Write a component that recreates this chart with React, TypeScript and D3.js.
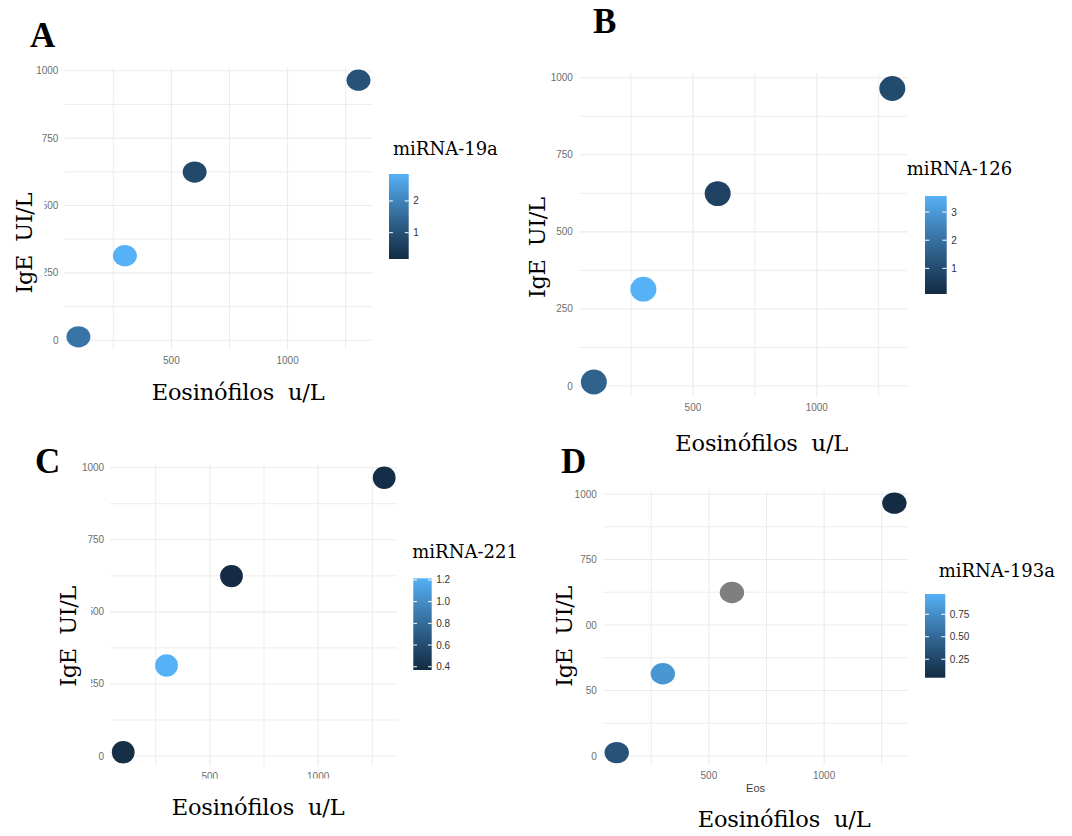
import React from "react";
import * as d3 from "d3";

// ---- data ----
const eosinophils = [100, 300, 600, 1305];
const ige = [13, 314, 624, 965];

const mir19a = [1.72, 2.85, 0.84, 1.03];
const mir19aLimits = [0.17, 2.85];
const mir19aTicks = [1, 2];

const mir126 = [1.62, 3.57, 0.75, 0.99];
const mir126Limits = [0.09, 3.57];
const mir126Ticks = [1, 2, 3];

const mir221 = [0.4, 1.215, 0.37, 0.39];
const mir221Limits = [0.37, 1.215];
const mir221Ticks = [0.4, 0.6, 0.8, 1.0, 1.2];

const mir193a: (number | null)[] = [0.35, 0.8, null, 0.045];
const mir193aLimits = [0.045, 0.975];
const mir193aTicks = [0.25, 0.5, 0.75];

const xTickValues = [500, 1000];
const yTickValues = [0, 250, 500, 750, 1000];
const xGridValues = [250, 500, 750, 1000, 1250];
const yGridValues = [0, 125, 250, 375, 500, 625, 750, 875, 1000];

const LOW = "#132B43";
const HIGH = "#56B1F7";
const NA_COL = "#7F7F7F";
const SERIF = "'DejaVu Serif', serif";
const SANS = "'Liberation Sans', Arial, sans-serif";

type Layout = {
  id: string;
  letter: [number, number];
  xTick: [number, number]; // pixel of 250 and 1250
  yTick: [number, number]; // pixel of 0 and 1000
  r: [number, number];
  xTitle: [number, number];
  yTitle: [number, number];
  mask: [number, number, number, number];
  legendTitle: [number, number];
  bar: [number, number, number, number];
  title: string;
  values: (number | null)[];
  limits: number[];
  ticks: number[];
  fmt: string;
  extraMask?: [number, number, number, number];
  eos?: boolean;
};

const layouts: Layout[] = [
  {
    id: "A", letter: [30, 47], xTick: [113.3, 345.7], yTick: [340.3, 70.7], r: [12, 10.6],
    xTitle: [151.7, 400], yTitle: [31.5, 293.5], mask: [0, 180, 44.5, 120],
    legendTitle: [393, 155], bar: [389, 174, 408.7, 259], title: "miRNA-19a",
    values: mir19a, limits: mir19aLimits, ticks: mir19aTicks, fmt: "d",
  },
  {
    id: "B", letter: [593, 33], xTick: [631, 878.7], yTick: [386, 77.7], r: [13, 12.4],
    xTitle: [675.3, 450.5], yTitle: [545, 298], mask: [500, 180, 55, 140],
    legendTitle: [906.7, 175], bar: [925, 196, 946.7, 294], title: "miRNA-126",
    values: mir126, limits: mir126Limits, ticks: mir126Ticks, fmt: "d",
  },
  {
    id: "C", letter: [35, 473], xTick: [155.7, 372.3], yTick: [756, 467.7], r: [11.4, 11.2],
    xTitle: [171.7, 815], yTitle: [76, 686.7], mask: [0, 580, 91, 120],
    legendTitle: [412.3, 558.3], bar: [413.3, 578.3, 431.7, 670], title: "miRNA-221",
    values: mir221, limits: mir221Limits, ticks: mir221Ticks, fmt: ".1f",
    extraMask: [100, 778.5, 300, 56],
  },
  {
    id: "D", letter: [561, 473], xTick: [651.3, 881.7], yTick: [756, 494], r: [12.2, 10.7],
    xTitle: [697.7, 827.3], yTitle: [572, 686.7], mask: [530, 580, 56, 120],
    legendTitle: [938.7, 576.7], bar: [925, 594, 945.3, 677.7], title: "miRNA-193a",
    values: mir193a, limits: mir193aLimits, ticks: mir193aTicks, fmt: ".2f",
    eos: true,
  },
];

function expand(vals: number[]): [number, number] {
  const [lo, hi] = d3.extent(vals) as [number, number];
  const pad = (hi - lo) * 0.05;
  return [lo - pad, hi + pad];
}

function Panel({ L }: { L: Layout }) {
  const xs = d3.scaleLinear().domain([250, 1250]).range(L.xTick);
  const ys = d3.scaleLinear().domain([0, 1000]).range(L.yTick);
  const [xLo, xHi] = expand(eosinophils);
  const [yLo, yHi] = expand(ige);
  const left = xs(xLo), right = xs(xHi), top = ys(yHi), bottom = ys(yLo);

  const color = d3
    .scaleLinear<string>()
    .domain(L.limits)
    .range([LOW, HIGH])
    .interpolate(d3.interpolateLab)
    .clamp(true);

  const [bx0, by0, bx1, by1] = L.bar;
  const ls = d3.scaleLinear().domain(L.limits).range([by1, by0]);
  const gradId = "grad" + L.id;
  const stops = d3.range(0, 1.0001, 0.1);
  const fmt = d3.format(L.fmt);
  const tickLen = (bx1 - bx0) / 5;

  return (
    <g>
      <defs>
        <linearGradient id={gradId} x1="0" y1="1" x2="0" y2="0">
          {stops.map((t, i) => (
            <stop key={i} offset={t} stopColor={d3.interpolateLab(LOW, HIGH)(t)} />
          ))}
        </linearGradient>
      </defs>
      {/* grid */}
      {yGridValues.map((v) => (
        <line key={"h" + v} x1={left} x2={right} y1={ys(v)} y2={ys(v)}
          stroke="#EBEBEB" strokeWidth={v % 250 === 0 ? 1.1 : 0.9} />
      ))}
      {xGridValues.map((v) => (
        <line key={"v" + v} x1={xs(v)} x2={xs(v)} y1={top} y2={bottom}
          stroke="#EBEBEB" strokeWidth={v % 500 === 0 ? 1.1 : 0.9} />
      ))}
      {/* tick labels */}
      {yTickValues.map((v) => (
        <text key={"yt" + v} x={left - 6} y={ys(v)} dy="0.35em" textAnchor="end"
          fontFamily={SANS} fontSize={10} fill="#6E6E6E">{v}</text>
      ))}
      {xTickValues.map((v) => (
        <text key={"xt" + v} x={xs(v)} y={bottom + 14} textAnchor="middle"
          fontFamily={SANS} fontSize={10} fill="#6E6E6E">{v}</text>
      ))}
      {L.eos && (
        <text x={(left + right) / 2} y={bottom + 27} textAnchor="middle"
          fontFamily={SANS} fontSize={11} fill="#3A3A3A">Eos</text>
      )}
      {/* points */}
      {eosinophils.map((x, i) => {
        const v = L.values[i];
        return (
          <ellipse key={"p" + i} cx={xs(x)} cy={ys(ige[i])} rx={L.r[0]} ry={L.r[1]}
            fill={v == null ? NA_COL : color(v)} />
        );
      })}
      {/* white pasted boxes */}
      <rect x={L.mask[0]} y={L.mask[1]} width={L.mask[2]} height={L.mask[3]} fill="#fff" />
      {L.extraMask && (
        <rect x={L.extraMask[0]} y={L.extraMask[1]} width={L.extraMask[2]} height={L.extraMask[3]} fill="#fff" />
      )}
      {/* axis titles */}
      <text x={L.xTitle[0]} y={L.xTitle[1]} fontFamily={SERIF} fontSize={22.5} fill="#000"
        textLength={173} lengthAdjust="spacing" xmlSpace="preserve">{"Eosinófilos  u/L"}</text>
      <text transform={`translate(${L.yTitle[0]},${L.yTitle[1]}) rotate(-90)`} fontFamily={SERIF}
        fontSize={22.5} fill="#000" textLength={101} lengthAdjust="spacing" xmlSpace="preserve">{"IgE  UI/L"}</text>
      {/* panel letter */}
      <text x={L.letter[0]} y={L.letter[1]} fontFamily="'Liberation Serif', serif" fontWeight="bold"
        fontSize={35} fill="#000">{L.id}</text>
      {/* legend */}
      <text x={L.legendTitle[0]} y={L.legendTitle[1]} fontFamily={SERIF} fontSize={18} fill="#000">{L.title}</text>
      <rect x={bx0} y={by0} width={bx1 - bx0} height={by1 - by0} fill={`url(#${gradId})`} />
      {L.ticks.map((t) => (
        <g key={"lt" + t}>
          <line x1={bx0} x2={bx0 + tickLen} y1={ls(t)} y2={ls(t)} stroke="#fff" strokeWidth={1} />
          <line x1={bx1 - tickLen} x2={bx1} y1={ls(t)} y2={ls(t)} stroke="#fff" strokeWidth={1} />
          <text x={bx1 + 4.5} y={ls(t)} dy="0.35em" fontFamily={SANS} fontSize={10} fill="#333">{fmt(t)}</text>
        </g>
      ))}
    </g>
  );
}

export default function App() {
  return (
    <svg width={1072} height={836} viewBox="0 0 1072 836"
      style={{ position: "absolute", left: 0, top: 0, background: "#fff" }}>
      <rect x={0} y={0} width={1072} height={836} fill="#fff" />
      {layouts.map((L) => (
        <Panel key={L.id} L={L} />
      ))}
    </svg>
  );
}
